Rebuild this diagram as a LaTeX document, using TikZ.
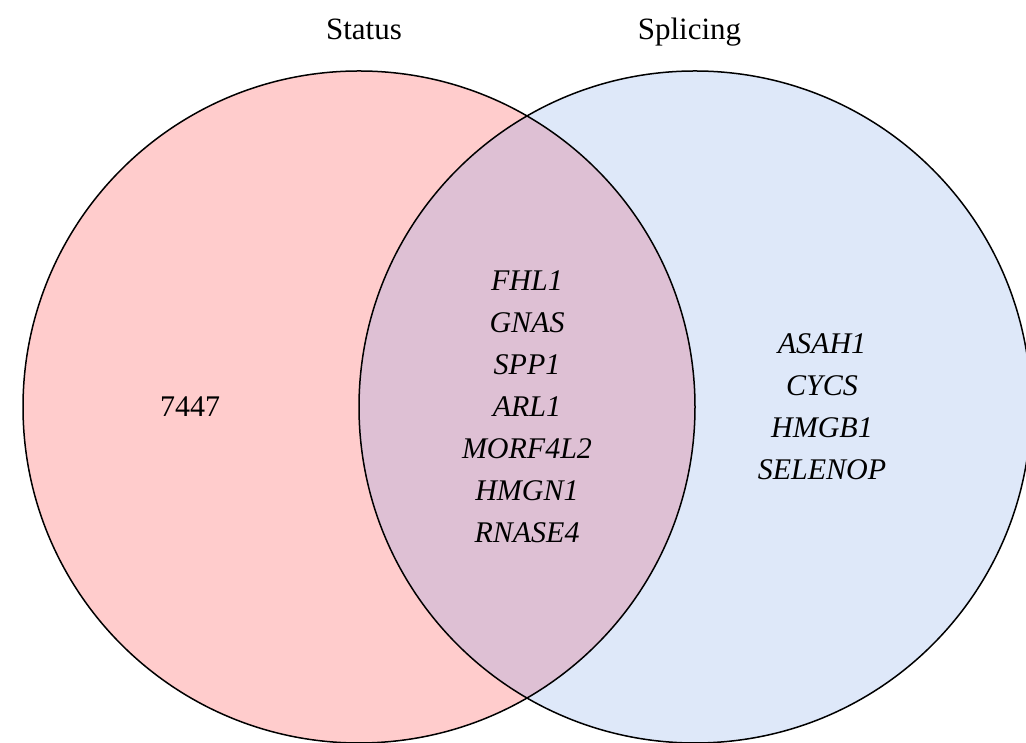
\documentclass[tikz,border=0pt]{standalone}
\usepackage{fontspec}
\setmainfont{Liberation Serif}
\usepackage{xcolor}
\definecolor{statusred}{RGB}{255,204,204}
\definecolor{splicingblue}{RGB}{222,232,249}
\definecolor{bothmauve}{RGB}{222,192,212}
\usepackage{tikz}

\begin{document}
\begin{tikzpicture}[x=1pt, y=1pt,
	setline/.style={draw=black, line width=1.5pt},
	title/.style={anchor=base, inner sep=0pt, font=\fontsize{31}{31}\selectfont},
	gene/.style={anchor=base, inner sep=0pt, font=\fontsize{30}{30}\selectfont\itshape},
	total/.style={anchor=base, inner sep=0pt, font=\fontsize{30}{30}\selectfont}]

% one unit is one pixel of the 1026 x 743 figure, y counted from the bottom
\def \xr{336pt} % radius of both sets
\def \xgap{42} % distance of two gene lines

\useasboundingbox (0,0) rectangle (1026,743);

\coordinate (status centre) at (359,336);
\coordinate (splicing centre) at (695,336);

\begin{scope}
	\clip (0,0) rectangle (1026,743); % circles run out of the figure at the bottom
	\fill[statusred] (status centre) circle (\xr);
	\fill[splicingblue] (splicing centre) circle (\xr);
	\begin{scope}
		\clip (status centre) circle (\xr);
		\fill[bothmauve] (splicing centre) circle (\xr); % overlap
	\end{scope}
	\draw[setline] (status centre) circle (\xr);
	\draw[setline] (splicing centre) circle (\xr);
\end{scope}

\node[title] (status title) at (364,703) {Status};
\node[title] (splicing title) at (689.5,703) {Splicing};

\node[total] (status only) at (190,326) {7447};

\foreach \g [count=\i] in {FHL1, GNAS, SPP1, ARL1, MORF4L2, HMGN1, RNASE4} {
	\node[gene] (both \i) at (527, 452 - \xgap*\i + \xgap) {\g}; % shared genes
}

\foreach \g [count=\i] in {ASAH1, CYCS, HMGB1, SELENOP} {
	\node[gene] (splicing \i) at (822, 389 - \xgap*\i + \xgap) {\g}; % splicing only
}

\end{tikzpicture}
\end{document}
